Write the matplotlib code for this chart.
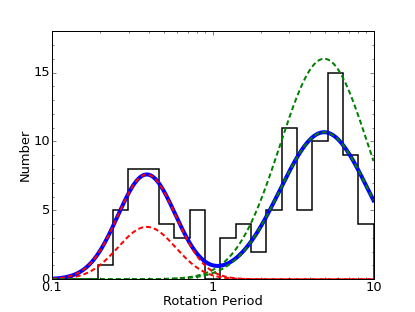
import numpy as np
import matplotlib
matplotlib.use("Agg")
import matplotlib.pyplot as plt
from matplotlib.ticker import MultipleLocator, FixedLocator, FixedFormatter

plt.style.use("classic")
plt.rcParams["font.size"] = 13
plt.rcParams["lines.scale_dashes"] = False

# histogram of rotation periods (21 log-spaced bins from 0.1 to 10)
bin_edges = np.logspace(-1, 1, 22)
counts = [0, 0, 0, 1, 5, 8, 8, 4, 3, 5, 0, 3, 4, 2, 5, 11, 5, 10, 15, 9, 4]

# two-component gaussian fit in log10(P)
fit_centers = [-0.41, 0.693]   # log10 of period
fit_widths = [0.18, 0.275]
fit_amps = [7.6, 10.67]
# alternative weights (dashed only)
alt_amps = [3.8, 16.0]

def gauss(logp, a, mu, sig):
    return a * np.exp(-(logp - mu) ** 2 / (2 * sig ** 2))

logp = np.linspace(-1, 1, 500)
p = 10 ** logp
comp1 = gauss(logp, fit_amps[0], fit_centers[0], fit_widths[0])
comp2 = gauss(logp, fit_amps[1], fit_centers[1], fit_widths[1])
alt1 = gauss(logp, alt_amps[0], fit_centers[0], fit_widths[0])
alt2 = gauss(logp, alt_amps[1], fit_centers[1], fit_widths[1])

dash = (5, 3)

fig = plt.figure(figsize=(415 / 72, 312 / 72), dpi=72, facecolor="white")
ax = fig.add_subplot(111)
fig.subplots_adjust(left=0.125, right=0.9, bottom=0.105, top=0.9)

ax.stairs(counts, bin_edges, color="k", lw=1.5)
ax.plot(p, alt2, "g--", lw=2, dashes=dash)
ax.plot(p, alt1, "r--", lw=2, dashes=dash)
ax.plot(p, comp1 + comp2, "b-", lw=4)
ax.plot(p, comp1, "r--", lw=2, dashes=dash)
ax.plot(p, comp2, "g--", lw=2, dashes=dash)

ax.set_xscale("log")
ax.set_xlim(0.1, 10)
ax.set_ylim(0, 18)
ax.xaxis.set_major_locator(FixedLocator([0.1, 1, 10]))
ax.xaxis.set_major_formatter(FixedFormatter(["0.1", "1", "10"]))
ax.yaxis.set_major_locator(MultipleLocator(5))
ax.yaxis.set_minor_locator(MultipleLocator(1))
ax.tick_params(which="major", pad=2)

ax.set_xlabel("Rotation Period", labelpad=1)
ax.set_ylabel("Number", labelpad=2)

fig.savefig("out.png", dpi=72, facecolor="white")
